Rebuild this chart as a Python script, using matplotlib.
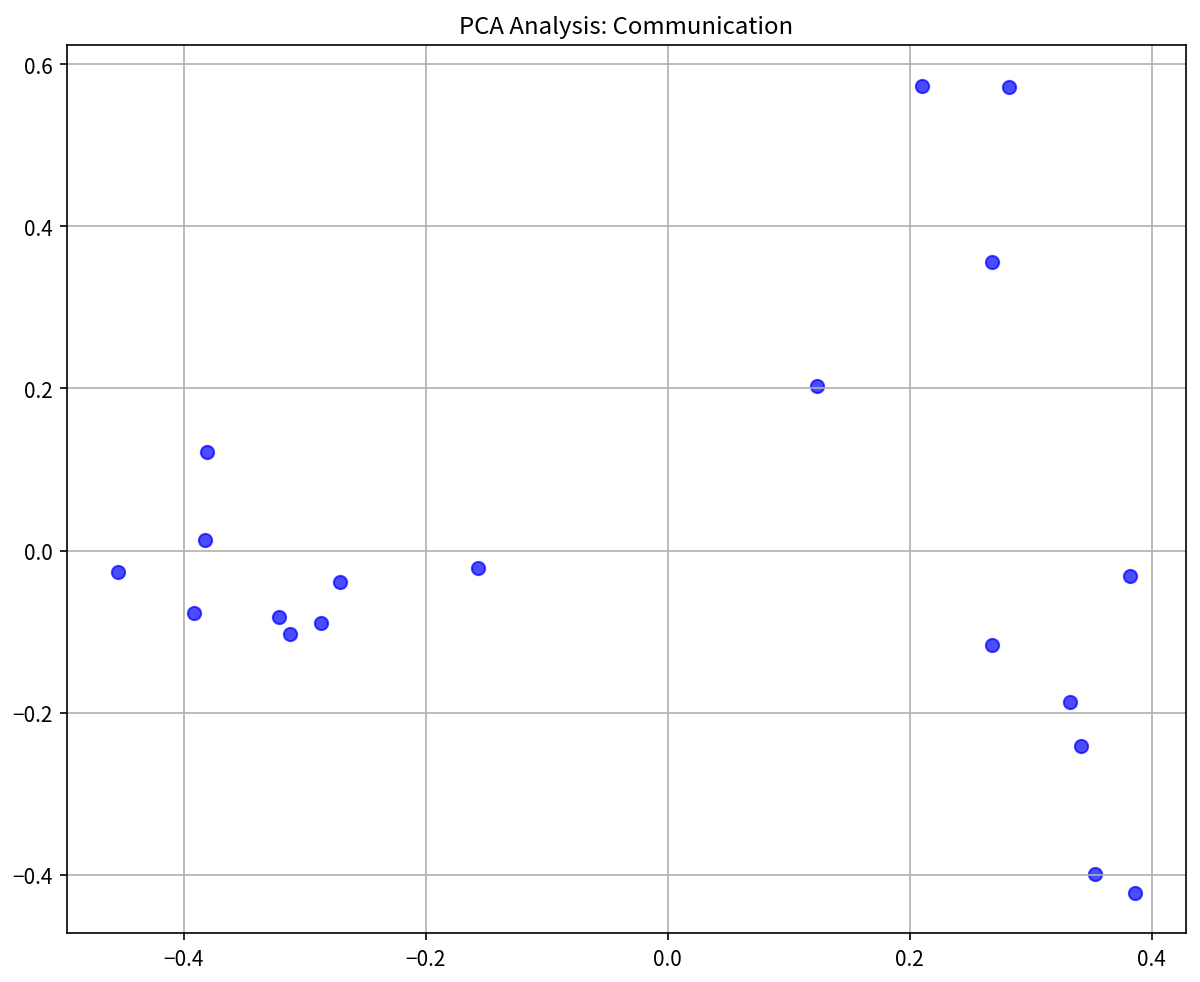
import matplotlib.pyplot as plt

plt.rcParams['font.family'] = ['Noto Sans CJK JP', 'DejaVu Sans']

pc1 = [-0.4545, -0.3917, -0.3826, -0.3810, -0.3215, -0.3124, -0.2868, -0.2711,
       -0.1570, 0.1231, 0.2099, 0.2818, 0.2678, 0.2678, 0.3322, 0.3413,
       0.3818, 0.3529, 0.3860]
pc2 = [-0.0270, -0.0776, 0.0135, 0.1220, -0.0825, -0.1034, -0.0899, -0.0394,
       -0.0222, 0.2032, 0.5739, 0.5727, 0.3559, -0.1170, -0.1872, -0.2414,
       -0.0320, -0.3990, -0.4224]

fig = plt.figure(figsize=(8, 6.553), dpi=150)
ax = fig.add_subplot(111)
fig.subplots_adjust(left=0.0558, right=0.988, top=0.953, bottom=0.0498)

ax.scatter(pc1, pc2, c='blue', alpha=0.7, s=40)
ax.set_title("PCA Analysis: Communication", fontsize=11.5)
ax.tick_params(labelsize=10)
ax.grid(True)

fig.savefig("out.png", dpi=150)
